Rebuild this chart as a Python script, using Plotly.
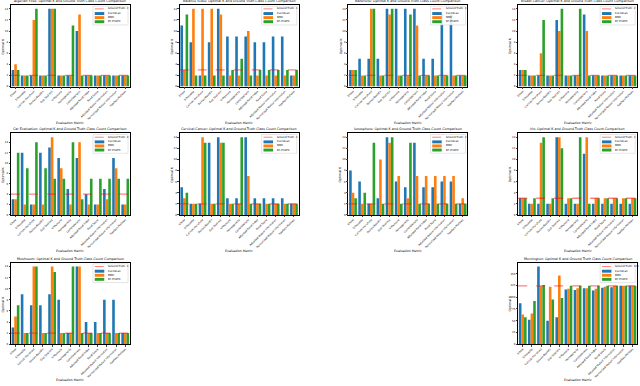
import plotly.graph_objects as go

metrics = ["Elbow", "Silhouette", "Calinski-Harabasz", "Davies-Bouldin", "Gap Statistic",
           "V-Measure", "Homogeneity", "Completeness", "Adjusted Rand Index", "Rand Score",
           "Adjusted Mutual Information", "Normalized Mutual Information", "Fowlkes-Mallows"]

datasets = ["Algerian Fires", "Balance Scale", "Banknote", "Breast Cancer", "Car Evaluation",
            "Cervical Cancer", "Ionosphere", "Iris", "Mushroom", "Mornington"]
ground_truth = [2, 3, 2, 2, 4, 2, 2, 3, 2, 124]

euclidean = [
    [3, 2, 2, 2, 14, 2, 2, 10, 2, 2, 2, 2, 2],
    [11, 8, 2, 8, 14, 9, 9, 9, 8, 8, 9, 9, 2],
    [3, 5, 5, 5, 14, 14, 14, 14, 5, 5, 13, 13, 2],
    [3, 2, 2, 2, 12, 2, 2, 13, 2, 2, 2, 2, 2],
    [3, 12, 2, 12, 13, 11, 5, 11, 4, 2, 5, 11, 2],
    [5, 2, 2, 13, 14, 3, 3, 14, 3, 3, 3, 3, 2],
    [8, 6, 2, 3, 14, 6, 5, 13, 5, 5, 6, 6, 2],
    [3, 2, 2, 2, 14, 2, 2, 11, 2, 2, 2, 2, 2],
    [3, 9, 7, 7, 9, 8, 2, 14, 4, 4, 8, 8, 2],
    [87, 52, 165, 50, 57, 116, 115, 119, 114, 120, 121, 124, 124],
]
mmc = [
    [4, 2, 12, 2, 14, 2, 2, 13, 2, 2, 2, 2, 2],
    [3, 14, 14, 14, 13, 2, 2, 10, 2, 2, 2, 2, 2],
    [3, 2, 14, 2, 13, 2, 2, 11, 2, 2, 2, 2, 2],
    [3, 2, 6, 2, 10, 2, 2, 10, 2, 2, 2, 2, 2],
    [3, 2, 2, 2, 15, 9, 2, 14, 2, 2, 3, 9, 2],
    [3, 2, 14, 2, 13, 2, 2, 7, 2, 2, 2, 2, 2],
    [4, 2, 2, 10, 13, 7, 3, 7, 7, 7, 7, 7, 3],
    [3, 2, 13, 2, 14, 3, 2, 14, 3, 3, 3, 3, 3],
    [5, 2, 14, 2, 14, 2, 2, 14, 2, 2, 2, 2, 2],
    [63, 65, 123, 122, 146, 118, 119, 119, 118, 122, 124, 124, 124],
]
rf_phate = [
    [3, 2, 14, 2, 14, 2, 11, 2, 2, 2, 2, 2, 2],
    [13, 2, 2, 2, 2, 3, 5, 2, 3, 3, 3, 3, 3],
    [3, 2, 14, 2, 14, 2, 13, 2, 2, 2, 2, 2, 2],
    [3, 2, 12, 2, 14, 2, 14, 2, 2, 2, 2, 2, 2],
    [12, 9, 14, 9, 7, 7, 14, 3, 7, 7, 7, 7, 7],
    [4, 2, 13, 2, 13, 2, 14, 2, 2, 2, 2, 2, 2],
    [3, 4, 13, 2, 14, 2, 13, 2, 2, 2, 2, 2, 2],
    [3, 3, 14, 3, 12, 3, 14, 2, 3, 3, 3, 3, 3],
    [7, 2, 14, 2, 13, 2, 14, 2, 2, 2, 2, 2, 2],
    [57, 92, 126, 95, 98, 124, 124, 124, 124, 124, 124, 124, 124],
]
series_names = ["Euclidean", "MMC", "RF-PHATE"]
colors = ["#1f77b4", "#ff7f0e", "#2ca02c"]
gt_color = "rgba(255,0,0,0.5)"

positions = [(0, 0), (0, 1), (0, 2), (0, 3), (1, 0), (1, 1), (1, 2), (1, 3), (2, 0), (2, 3)]
W, H = 640, 386
col_left = [10, 179, 348, 518]
plot_w = 119
row_top = [5, 134, 264]
plot_h = 82

FONT = "DejaVu Sans"
fig = go.Figure()
layout = dict(width=W, height=H, margin=dict(l=0, r=0, t=0, b=0),
              paper_bgcolor="white", plot_bgcolor="white", barmode="group",
              bargap=0.15, bargroupgap=0, showlegend=False,
              font=dict(family=FONT, size=3, color="black"))
shapes, annotations = [], []

for i, name in enumerate(datasets):
    k = i + 1
    xa = "x" if k == 1 else f"x{k}"
    ya = "y" if k == 1 else f"y{k}"
    r, c = positions[i]
    x0 = col_left[c] / W
    x1 = (col_left[c] + plot_w) / W
    y1 = 1 - row_top[r] / H
    y0 = 1 - (row_top[r] + plot_h) / H
    for s, vals in enumerate([euclidean[i], mmc[i], rf_phate[i]]):
        fig.add_trace(go.Bar(x=metrics, y=vals, name=series_names[s],
                             marker=dict(color=colors[s], line=dict(width=0)),
                             xaxis=xa, yaxis=ya))
    ymax = max(max(euclidean[i]), max(mmc[i]), max(rf_phate[i])) * 1.05
    big = ground_truth[i] > 20
    axkw = dict(showline=True, linecolor="black", linewidth=0.6, mirror=True,
                ticks="outside", ticklen=1.5, tickwidth=0.5, showgrid=False, zeroline=False)
    layout[("xaxis" if k == 1 else f"xaxis{k}")] = dict(
        domain=[x0, x1], anchor=ya, tickangle=-45, tickfont=dict(size=2.6, family=FONT),
        range=[-0.5, 12.5], **axkw)
    layout[("yaxis" if k == 1 else f"yaxis{k}")] = dict(
        domain=[y0, y1], anchor=xa, range=[0, ymax], dtick=25 if big else 2,
        tickfont=dict(size=2.6, family=FONT), **axkw)
    # ground truth line
    shapes.append(dict(type="line", xref=f"{xa} domain", x0=0, x1=1, yref=ya,
                       y0=ground_truth[i], y1=ground_truth[i],
                       line=dict(color=gt_color, width=1.3, dash="dash"), layer="above"))
    # title
    annotations.append(dict(text=f"{name}: Optimal K and Ground Truth Class Count Comparison",
                            xref=f"{xa} domain", yref=f"{ya} domain", x=0.5, y=1,
                            yanchor="bottom", xanchor="center", showarrow=False,
                            font=dict(size=3.3, family=FONT), yshift=0))
    annotations.append(dict(text="Evaluation Metric", xref=f"{xa} domain", yref=f"{ya} domain",
                            x=0.5, y=0, yshift=-36, yanchor="middle", showarrow=False,
                            font=dict(size=3.2, family=FONT)))
    annotations.append(dict(text="Optimal K", xref=f"{xa} domain", yref=f"{ya} domain",
                            x=0, y=0.5, xshift=-8, xanchor="center", textangle=-90,
                            showarrow=False, font=dict(size=3.2, family=FONT)))
    # legend box
    shapes.append(dict(type="rect", xref=f"{xa} domain", yref=f"{ya} domain",
                       x0=0.69, x1=0.985, y0=0.755, y1=0.985,
                       fillcolor="rgba(255,255,255,0.85)",
                       line=dict(color="#cccccc", width=0.5), layer="above"))
    labels = [f"Ground Truth: {ground_truth[i]}"] + series_names
    ys = [0.952, 0.895, 0.845, 0.795]
    for j, lab in enumerate(labels):
        if j == 0:
            shapes.append(dict(type="line", xref=f"{xa} domain", yref=f"{ya} domain",
                               x0=0.705, x1=0.785, y0=ys[j], y1=ys[j],
                               line=dict(color=gt_color, width=1, dash="dash"), layer="above"))
        else:
            shapes.append(dict(type="rect", xref=f"{xa} domain", yref=f"{ya} domain",
                               x0=0.705, x1=0.785, y0=ys[j] - 0.018, y1=ys[j] + 0.018,
                               fillcolor=colors[j - 1], line=dict(width=0), layer="above"))
        annotations.append(dict(text=lab, xref=f"{xa} domain", yref=f"{ya} domain",
                                x=0.80, y=ys[j], xanchor="left", yanchor="middle",
                                showarrow=False, font=dict(size=2.6, family=FONT)))

layout["shapes"] = shapes
layout["annotations"] = annotations
fig.update_layout(**layout)
fig.write_html("out.html", config={"displayModeBar": False},
               post_script="document.body.style.margin='0';document.body.style.overflow='hidden';")
